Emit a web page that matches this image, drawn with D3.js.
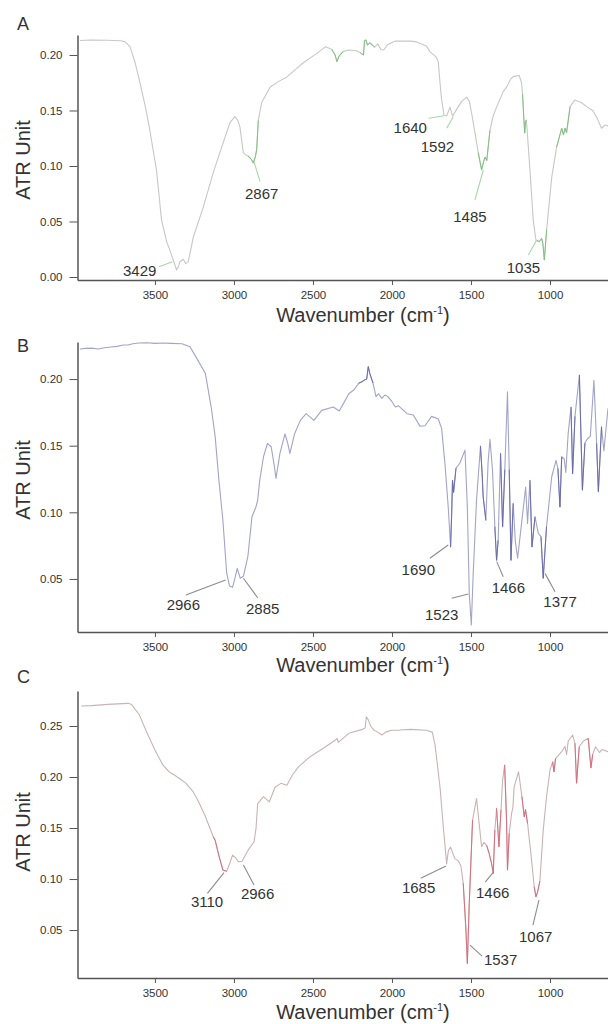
<!DOCTYPE html>
<html><head><meta charset="utf-8">
<script src="https://cdn.jsdelivr.net/npm/d3@7"></script>
<style>
body{margin:0;background:#fff}
svg{display:block}
text{font-family:"Liberation Sans",Arial,Helvetica,sans-serif;fill:#333}
</style>
</head><body>
<svg id="chart" width="608" height="1024"></svg>
<script>
// ---------- DATA ----------
const xTicks = [3500, 3000, 2500, 2000, 1500, 1000];

// Panel A
const wnA = [3975,3900,3800,3720,3690,3658,3625,3595,3560,3532,3490,3458,3426,3400,3384,3363,3350,3342,3320,3305,3289,3257,3194,3131,3068,3025,2994,2975,2962,2950,2941,2925,2910,2890,2878,2865,2856,2846,2825,2772,2720,2667,2610,2561,2480,2420,2380,2360,2348,2335,2310,2272,2230,2200,2180,2174,2165,2155,2140,2110,2090,2070,2052,2030,2003,1978,1950,1880,1844,1782,1760,1720,1707,1696,1686,1671,1654,1633,1616,1591,1560,1527,1510,1496,1475,1454,1433,1420,1411,1400,1380,1360,1338,1296,1275,1250,1233,1195,1180,1174,1165,1160,1155,1149,1127,1106,1089,1068,1053,1045,1036,1021,989,958,926,915,905,895,873,842,800,768,730,705,674,650,633];
const absA = [0.213,0.2135,0.2133,0.2128,0.212,0.2075,0.193,0.175,0.153,0.132,0.096,0.051,0.032,0.022,0.0153,0.0063,0.010,0.0138,0.016,0.012,0.0138,0.036,0.063,0.094,0.121,0.139,0.1444,0.141,0.135,0.122,0.112,0.110,0.109,0.106,0.1027,0.108,0.115,0.141,0.157,0.171,0.176,0.180,0.187,0.193,0.201,0.2075,0.205,0.200,0.194,0.199,0.203,0.2045,0.204,0.202,0.200,0.213,0.2135,0.209,0.211,0.207,0.210,0.205,0.2045,0.209,0.211,0.2125,0.2125,0.2125,0.2118,0.208,0.203,0.198,0.194,0.175,0.160,0.146,0.145,0.153,0.145,0.151,0.158,0.162,0.158,0.1475,0.130,0.112,0.0965,0.104,0.108,0.105,0.132,0.145,0.153,0.167,0.171,0.178,0.1805,0.1815,0.175,0.165,0.1414,0.1297,0.140,0.1414,0.0965,0.051,0.0333,0.0318,0.0348,0.030,0.0153,0.043,0.090,0.117,0.134,0.128,0.134,0.130,0.1535,0.1595,0.157,0.1535,0.150,0.144,0.134,0.137,0.136];
const ticksA = [0, 0.05, 0.10, 0.15, 0.20];
const hiA = [[2365,2330],[2190,2140],[2900,2850],[1440,1400],[1170,1150],[1075,1030],[930,890]];
// label: text, text wn, text val, leader start wn/val, leader end wn/val
const labelsA = [
  ["3429",3702,0.0009,3475,0.0093,3389,0.0138],
  ["2867",2930,0.0703,2835,0.0859,2873,0.1039],
  ["1640",1990,0.1297,1769,0.1430,1671,0.1453],
  ["1592",1818,0.1126,1654,0.1340,1612,0.1444],
  ["1485",1612,0.0498,1475,0.0694,1422,0.0964],
  ["1035",1274,0.0033,1137,0.0198,1084,0.0333]
];

// Panel B
const wnB = [3975,3940,3900,3860,3820,3780,3740,3700,3670,3640,3600,3550,3500,3450,3400,3329,3278,3229,3181,3144,3119,3095,3070,3046,3028,3009,2995,2979,2960,2940,2912,2886,2861,2850,2837,2813,2788,2764,2745,2734,2709,2677,2660,2646,2616,2580,2543,2494,2445,2371,2334,2310,2273,2240,2211,2190,2174,2160,2150,2140,2120,2101,2085,2064,2045,2027,2000,1978,1960,1905,1865,1823,1791,1749,1707,1686,1665,1644,1629,1622,1617,1610,1595,1570,1538,1523,1511,1498,1486,1465,1440,1430,1423,1406,1392,1380,1364,1349,1338,1328,1313,1300,1286,1269,1258,1247,1233,1220,1205,1180,1154,1142,1127,1114,1095,1074,1057,1043,1022,989,962,950,937,926,910,900,885,867,857,842,814,795,779,764,745,722,705,694,674,659,633];
const absB = [0.2225,0.223,0.2232,0.2225,0.2235,0.224,0.2245,0.2255,0.2255,0.2265,0.227,0.2272,0.2268,0.227,0.2268,0.2265,0.2242,0.2142,0.2043,0.179,0.157,0.124,0.094,0.0545,0.0447,0.0437,0.050,0.058,0.0505,0.052,0.0667,0.0967,0.104,0.109,0.124,0.1417,0.1517,0.149,0.135,0.1255,0.1442,0.1588,0.152,0.1442,0.159,0.169,0.174,0.169,0.1765,0.179,0.176,0.181,0.189,0.192,0.1968,0.198,0.1993,0.200,0.2093,0.204,0.197,0.1868,0.189,0.1855,0.188,0.187,0.183,0.179,0.180,0.174,0.173,0.1647,0.165,0.172,0.170,0.163,0.1367,0.104,0.074,0.100,0.124,0.115,0.133,0.137,0.1467,0.104,0.0393,0.0155,0.054,0.1092,0.1497,0.130,0.1117,0.094,0.137,0.1548,0.1317,0.0892,0.064,0.079,0.1442,0.0892,0.132,0.1905,0.132,0.064,0.1067,0.079,0.0655,0.0917,0.119,0.0917,0.124,0.074,0.0967,0.0842,0.0817,0.0505,0.0892,0.1267,0.139,0.133,0.104,0.1417,0.140,0.130,0.1592,0.179,0.129,0.172,0.203,0.1167,0.152,0.155,0.157,0.199,0.1517,0.1155,0.1642,0.146,0.178];
const ticksB = [0.05, 0.10, 0.15, 0.20];
const hiB = [[2200,2140],[1625,1605],[1432,1415],[1345,1330],[1305,1295],[1250,1240],[1118,1110],[1048,1038],[940,932],[860,852],[800,790],[698,690]];
const labelsB = [
  ["2966",3426,0.0267,3304,0.0380,3053,0.0492],
  ["2885",2924,0.0237,2849,0.0357,2940,0.0505],
  ["1690",1939,0.0530,1760,0.0655,1644,0.0755],
  ["1523",1791,0.0192,1622,0.0355,1517,0.0387],
  ["1466",1369,0.0395,1296,0.0517,1337,0.0630],
  ["1377",1042,0.0290,968,0.0404,1032,0.0542]
];

// Panel C
const wnC = [3966,3900,3800,3670,3647,3598,3549,3500,3450,3410,3377,3340,3303,3260,3229,3180,3131,3119,3095,3070,3046,3025,3009,2990,2972,2948,2910,2873,2860,2850,2813,2776,2740,2703,2665,2630,2592,2518,2420,2360,2347,2340,2273,2187,2170,2162,2150,2135,2113,2090,2064,2040,2003,1950,1880,1782,1745,1728,1696,1675,1654,1643,1629,1602,1581,1564,1549,1532,1523,1511,1490,1465,1448,1433,1418,1401,1385,1370,1359,1349,1338,1323,1310,1300,1287,1275,1269,1258,1243,1235,1227,1199,1178,1163,1155,1142,1121,1100,1089,1079,1064,1043,1022,1000,983,975,965,926,905,895,885,857,842,832,815,790,758,741,730,712,687,670,633];
const absC = [0.2696,0.270,0.2712,0.2722,0.271,0.2608,0.2428,0.2265,0.2118,0.205,0.202,0.198,0.1938,0.186,0.1775,0.1611,0.1415,0.138,0.1228,0.1088,0.1076,0.116,0.1235,0.121,0.1169,0.1175,0.1284,0.1365,0.150,0.174,0.1807,0.1757,0.190,0.1938,0.192,0.202,0.210,0.2199,0.2297,0.236,0.2379,0.234,0.2428,0.2467,0.248,0.2591,0.256,0.250,0.2458,0.244,0.2412,0.244,0.2458,0.246,0.2467,0.2458,0.244,0.232,0.190,0.1508,0.1149,0.128,0.1313,0.120,0.118,0.113,0.0958,0.050,0.0173,0.076,0.1578,0.179,0.154,0.1317,0.136,0.133,0.125,0.1153,0.1055,0.148,0.1693,0.1317,0.168,0.197,0.2118,0.1578,0.1088,0.145,0.1644,0.170,0.190,0.2052,0.181,0.161,0.168,0.1545,0.125,0.0924,0.0826,0.087,0.098,0.1477,0.1807,0.2069,0.215,0.205,0.218,0.2248,0.230,0.222,0.235,0.2412,0.233,0.194,0.2297,0.235,0.2379,0.209,0.222,0.2297,0.224,0.227,0.2248];
const ticksC = [0.05, 0.10, 0.15, 0.20, 0.25];
const hiC = [[3130,3060],[1545,1505],[1390,1350],[1330,1315],[1275,1262],[1170,1155],[1090,1070],[980,970],[840,825],[745,735]];
const labelsC = [
  ["3110",3272,0.0725,3168,0.0860,3063,0.1062],
  ["2966",2956,0.0804,2873,0.0941,2940,0.1137],
  ["1685",1937,0.0863,1818,0.1007,1658,0.1127],
  ["1466",1468,0.0814,1410,0.0970,1361,0.1062],
  ["1067",1196,0.0382,1108,0.0549,1070,0.0794],
  ["1537",1418,0.0157,1430,0.0245,1506,0.0353]
];

// ---------- LAYOUT ----------
const panels = [
  {letter:"A", wn:wnA, ab:absA, ticks:ticksA, hi:hiA, labels:labelsA, yDom:[-0.0027,0.218], top:35, bottom:280,
   base:"#c4c9c4", hiCol:"#7cbf7c", leadCol:"#a8d6a8", letterY:30, titleY:322, yLabelY:160},
  {letter:"B", wn:wnB, ab:absB, ticks:ticksB, hi:hiB, labels:labelsB, yDom:[0.0102,0.2278], top:342, bottom:632,
   base:"#a2a4c8", hiCol:"#6566a8", leadCol:"#8c8c8c", letterY:352, titleY:672, yLabelY:480},
  {letter:"C", wn:wnC, ab:absC, ticks:ticksC, hi:hiC, labels:labelsC, yDom:[0.003,0.2843], top:691, bottom:978,
   base:"#c9b3b3", hiCol:"#d86878", leadCol:"#8c8c8c", letterY:683, titleY:1019, yLabelY:832}
];

const svg = d3.select("#chart");
const x = d3.scaleLinear().domain([3990, 633]).range([77.5, 608]);

panels.forEach(p => {
  const g = svg.append("g");
  const y = d3.scaleLinear().domain(p.yDom).range([p.bottom, p.top]);
  const pts = p.wn.map((w,i) => ({w, v:p.ab[i]}));
  const line = d3.line().x(d => x(d.w)).y(d => y(d.v));

  g.append("path").datum(pts).attr("d", line)
    .attr("fill","none").attr("stroke",p.base).attr("stroke-width",1.1).attr("stroke-linejoin","round");

  p.hi.forEach(([hiW, loW]) => {
    let idx = pts.map((d,i)=> (d.w<=hiW && d.w>=loW) ? i : -1).filter(i=>i>=0);
    if (!idx.length) return;
    const s = Math.max(0, idx[0]-1), e = Math.min(pts.length-1, idx[idx.length-1]+1);
    g.append("path").datum(pts.slice(s, e+1)).attr("d", line)
      .attr("fill","none").attr("stroke",p.hiCol).attr("stroke-width",0.9).attr("stroke-linejoin","round");
  });

  // axes
  const xa = g.append("g").attr("transform",`translate(0,${p.bottom})`)
    .call(d3.axisBottom(x).tickValues(xTicks).tickSize(5).tickSizeOuter(0).tickPadding(6).tickFormat(d3.format("d")));
  const ya = g.append("g").attr("transform",`translate(${x.range()[0]},0)`)
    .call(d3.axisLeft(y).tickValues(p.ticks).tickSize(8).tickSizeOuter(0).tickPadding(7).tickFormat(d3.format(".2f")));
  [xa, ya].forEach(a => {
    a.select(".domain").attr("stroke","#555").attr("stroke-width",1.5);
    a.selectAll(".tick line").attr("stroke","#555").attr("stroke-width",1);
    a.selectAll(".tick text").attr("fill","#333").style("font-size","11.5px")
      .style("font-family",'"Liberation Sans",Arial,sans-serif');
  });

  // leaders and labels
  p.labels.forEach(([t, tw, tv, w1, v1, w2, v2]) => {
    g.append("line").attr("x1",x(w1)).attr("y1",y(v1)).attr("x2",x(w2)).attr("y2",y(v2))
      .attr("stroke",p.leadCol).attr("stroke-width",1.1);
    g.append("text").attr("x",x(tw)).attr("y",y(tv)).style("font-size","15px").text(t);
  });

  // panel letter
  g.append("text").attr("x",17).attr("y",p.letterY).style("font-size","18px").text(p.letter);

  // y label
  g.append("text").attr("transform",`translate(30,${p.yLabelY}) rotate(-90)`)
    .attr("text-anchor","middle").style("font-size","20px").text("ATR Unit");

  // x title
  const tt = g.append("text").attr("x",363).attr("y",p.titleY).attr("text-anchor","middle").style("font-size","20px");
  tt.append("tspan").text("Wavenumber (cm");
  tt.append("tspan").attr("dy",-8).style("font-size","11px").text("-1");
  tt.append("tspan").attr("dy",8).text(")");
});
</script>
</body></html>
